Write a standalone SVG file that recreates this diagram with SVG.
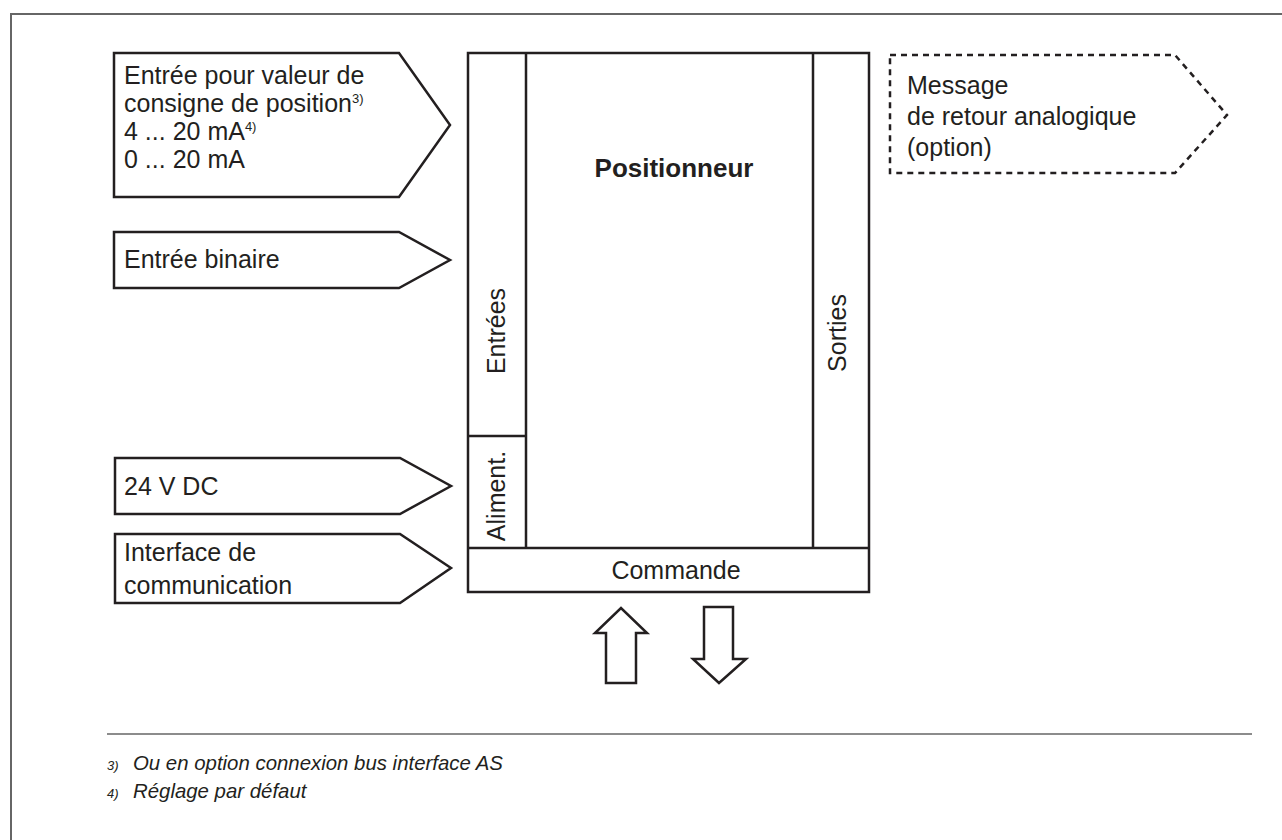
<svg xmlns="http://www.w3.org/2000/svg" width="1282" height="840" viewBox="0 0 1282 840">
<style>
.frame{fill:none;stroke:#666;stroke-width:2}
.shape{fill:#fff;stroke:#231f20;stroke-width:2.5;stroke-linejoin:miter}
.dash{fill:#fff;stroke:#231f20;stroke-width:2.5;stroke-dasharray:6 5}
.ln{fill:none;stroke:#231f20;stroke-width:2.5}
text{font-family:"Liberation Sans",Arial,Helvetica,sans-serif;fill:#231f20}
.lbl{font-size:25px}
.sup{font-size:13px}
.title{font-size:26px;font-weight:bold}
.fn{font-size:20.4px;font-style:italic}
.fnn{font-size:13px;font-style:italic}
</style>
<rect width="1282" height="840" fill="#fff"/>
<path class="frame" d="M11,840 V14 H1282"/>

<g id="connectors">
<path class="shape" d="M606,683 V633 H595 L621,608 L647,633 H636 V683 Z"/>
<path class="shape" d="M704,607 H733 V659 H746 L719,683 L693,659 H704 Z"/>
</g>

<g id="in-consigne">
<path class="shape" d="M114,53 H399 L450,125 L399,197 H114 Z"/>
<text class="lbl" x="124" y="84">Entrée pour valeur de</text>
<text class="lbl" x="124" y="112">consigne de position<tspan class="sup" dy="-9">3)</tspan></text>
<text class="lbl" x="124" y="140">4 ... 20 mA<tspan class="sup" dy="-9">4)</tspan></text>
<text class="lbl" x="124" y="168">0 ... 20 mA</text>
</g>

<g id="in-binaire">
<path class="shape" d="M114,232 H399 L450,260 L399,288 H114 Z"/>
<text class="lbl" x="124" y="268">Entrée binaire</text>
</g>

<g id="in-24v">
<path class="shape" d="M115,458 H400 L451,486 L400,514 H115 Z"/>
<text class="lbl" x="124" y="495">24 V DC</text>
</g>

<g id="in-interface">
<path class="shape" d="M115,534 H400 L451,568 L400,603 H115 Z"/>
<text class="lbl" x="124" y="561">Interface de</text>
<text class="lbl" x="124" y="594">communication</text>
</g>

<g id="out-message">
<path class="dash" d="M890,55 H1175 L1227,115 L1175,173 H890 Z"/>
<text class="lbl" x="907" y="94">Message</text>
<text class="lbl" x="907" y="125">de retour analogique</text>
<text class="lbl" x="907" y="156">(option)</text>
</g>

<g id="positionneur">
<rect class="shape" x="468" y="53" width="401" height="539"/>
<path class="ln" d="M526,53 V548 M813,53 V548 M468,436 H526 M468,548 H869"/>
<text class="title" x="674" y="177" text-anchor="middle">Positionneur</text>
<text class="lbl" transform="translate(505,331) rotate(-90)" text-anchor="middle">Entrées</text>
<text class="lbl" transform="translate(846,333) rotate(-90)" text-anchor="middle">Sorties</text>
<text class="lbl" transform="translate(505,496) rotate(-90)" text-anchor="middle">Aliment.</text>
<text class="lbl" x="676" y="579" text-anchor="middle">Commande</text>
</g>

<g id="footnotes">
<line x1="107" y1="734" x2="1252" y2="734" stroke="#666" stroke-width="1.5"/>
<text class="fnn" x="107" y="770">3)</text>
<text class="fn" x="133" y="770">Ou en option connexion bus interface AS</text>
<text class="fnn" x="107" y="798">4)</text>
<text class="fn" x="133" y="798">Réglage par défaut</text>
</g>
</svg>
